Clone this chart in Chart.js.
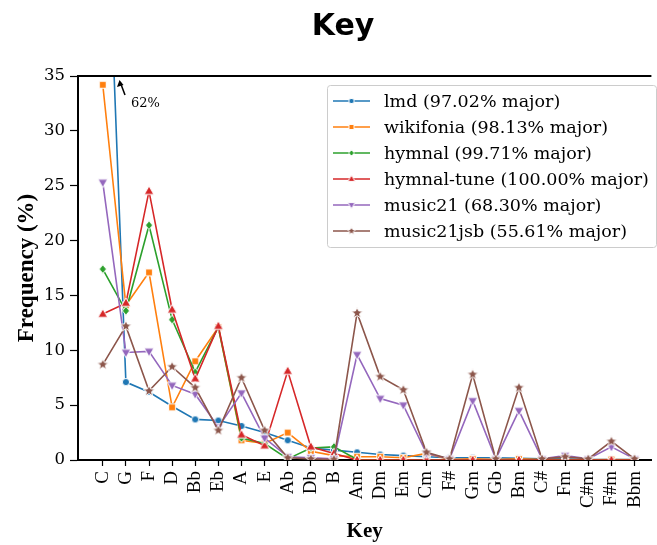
<!DOCTYPE html>
<html>
<head>
<meta charset="utf-8">
<script src="https://cdn.jsdelivr.net/npm/chart.js@4"></script>
<style>
html, body { margin: 0; padding: 0; background: #fff; }
#wrap { position: relative; width: 657px; height: 545px; }
</style>
</head>
<body>
<div id="wrap"><canvas id="keyChart"></canvas></div>
<script>
// keys along the x axis
const keys = ['C','G','F','D','Bb','Eb','A','E','Ab','Db','B','Am','Dm','Em','Cm','F#','Gm','Gb','Bm','C#','Fm','C#m','F#m','Bbm'];

// frequency (%) per key
const lmd        = [62, 7.1, 6.2, 4.9, 3.7, 3.6, 3.1, 2.5, 1.8, 1.1, 0.9, 0.7, 0.5, 0.4, 0.3, 0.2, 0.2, 0.2, 0.15, 0.1, 0.1, 0.05, 0.05, 0.05];
const wikifonia  = [34.2, 14.1, 17.1, 4.8, 9.0, 12.1, 1.8, 1.5, 2.5, 0.8, 0.4, 0.3, 0.3, 0.2, 0.6, 0.05, 0.1, 0.05, 0.1, 0.05, 0.05, 0.02, 0.05, 0.02];
const hymnal     = [17.4, 13.6, 21.4, 12.8, 8.0, 12.1, 2.0, 1.5, 0.1, 1.1, 1.2, 0.05, 0, 0, 0, 0, 0, 0, 0, 0, 0, 0, 0, 0];
const hymnalTune = [13.3, 14.3, 24.5, 13.7, 7.4, 12.2, 2.3, 1.3, 8.1, 1.2, 0.6, 0, 0, 0, 0, 0, 0, 0, 0, 0, 0, 0, 0, 0];
const music21    = [25.3, 9.8, 9.9, 6.8, 6.0, 3.0, 6.1, 2.0, 0.3, 0.2, 0.1, 9.6, 5.6, 5.0, 0.6, 0.1, 5.4, 0.1, 4.5, 0.1, 0.4, 0.1, 1.2, 0.1];
const music21jsb = [8.7, 12.2, 6.3, 8.5, 6.6, 2.7, 7.5, 2.7, 0.2, 0.1, 0.05, 13.4, 7.6, 6.4, 0.7, 0.1, 7.8, 0.1, 6.6, 0.1, 0.3, 0.1, 1.7, 0.1];

const seriesLabels = ['lmd (97.02% major)', 'wikifonia (98.13% major)', 'hymnal (99.71% major)',
                      'hymnal-tune (100.00% major)', 'music21 (68.30% major)', 'music21jsb (55.61% major)'];
const seriesData = [lmd, wikifonia, hymnal, hymnalTune, music21, music21jsb];
const yTicks = [0, 5, 10, 15, 20, 25, 30, 35];

const colors = ['#1f77b4', '#ff7f0e', '#2ca02c', '#d62728', '#9467bd', '#8c564b'];
const shapes = ['circle', 'square', 'diamond', 'up', 'down', 'star'];

// small marker images with a white edge, like the matplotlib ones
function makeMarker(shape, color, k) {
  const s = 18;
  const c = document.createElement('canvas');
  c.width = s; c.height = s;
  const g = c.getContext('2d');
  g.translate(s / 2, s / 2);
  g.scale(k, k);
  g.beginPath();
  if (shape === 'circle') g.arc(0, 0, 3.6, 0, Math.PI * 2);
  else if (shape === 'square') g.rect(-3.4, -3.4, 6.8, 6.8);
  else if (shape === 'diamond') { g.moveTo(0, -4.4); g.lineTo(3.6, 0); g.lineTo(0, 4.4); g.lineTo(-3.6, 0); g.closePath(); }
  else if (shape === 'up') { g.moveTo(0, -5.2); g.lineTo(4.8, 3.2); g.lineTo(-4.8, 3.2); g.closePath(); }
  else if (shape === 'down') { g.moveTo(0, 5.2); g.lineTo(4.8, -3.2); g.lineTo(-4.8, -3.2); g.closePath(); }
  else if (shape === 'star') {
    for (let i = 0; i < 10; i++) {
      const r = i % 2 ? 2.6 : 6.0;
      const a = -Math.PI / 2 + i * Math.PI / 5;
      g.lineTo(r * Math.cos(a), r * Math.sin(a));
    }
    g.closePath();
  }
  g.fillStyle = color;
  g.fill();
  g.strokeStyle = '#fff';
  g.lineWidth = 1 / k;
  g.stroke();
  return c;
}
const markers = shapes.map((s, i) => makeMarker(s, colors[i], 1));
const legendMarkers = shapes.map((s, i) => makeMarker(s, colors[i], 0.75));

const datasets = seriesData.map((vals, i) => ({
  label: seriesLabels[i],
  data: vals.map((v, k) => ({ x: k, y: v })),
  borderColor: colors[i],
  backgroundColor: colors[i],
  borderWidth: 1.6,
  tension: 0,
  pointStyle: markers[i],
  order: 5 - i   // later series on top, like matplotlib
}));

// title, top spine, arrow note and the legend box
const extras = {
  id: 'extras',
  afterDraw(chart) {
    const ctx = chart.ctx;
    const a = chart.chartArea;
    ctx.save();

    ctx.strokeStyle = '#000';
    ctx.lineWidth = 2;
    ctx.beginPath();
    ctx.moveTo(a.left - 1, a.top);
    ctx.lineTo(a.right, a.top);
    ctx.stroke();

    ctx.fillStyle = '#000';
    ctx.font = 'bold 30px "DejaVu Sans"';
    ctx.textAlign = 'center';
    ctx.textBaseline = 'alphabetic';
    ctx.fillText('Key', 343, 35);

    // 62% note for lmd at C
    ctx.lineWidth = 1.5;
    ctx.beginPath();
    ctx.moveTo(125, 95);
    ctx.lineTo(120.5, 83);
    ctx.stroke();
    ctx.beginPath();
    ctx.moveTo(119.5, 80);
    ctx.lineTo(117, 87);
    ctx.lineTo(123.5, 85);
    ctx.closePath();
    ctx.fill();
    ctx.font = '13px "DejaVu Serif"';
    ctx.textAlign = 'left';
    ctx.textBaseline = 'middle';
    ctx.fillText('62%', 131, 104);

    // legend
    const lx = 327, ly = 85, lw = 329, lh = 162;
    ctx.fillStyle = 'rgba(255,255,255,0.8)';
    ctx.strokeStyle = '#cccccc';
    ctx.lineWidth = 1;
    ctx.beginPath();
    ctx.roundRect(lx + 0.5, ly + 0.5, lw, lh, 3);
    ctx.fill();
    ctx.stroke();
    ctx.font = '17.5px "DejaVu Serif"';
    seriesLabels.forEach((lab, i) => {
      const y = 101 + i * 26;
      ctx.strokeStyle = colors[i];
      ctx.lineWidth = 1.6;
      ctx.beginPath();
      ctx.moveTo(333, y);
      ctx.lineTo(370, y);
      ctx.stroke();
      ctx.drawImage(legendMarkers[i], 351.5 - 9, y - 9);
      ctx.fillStyle = '#000';
      ctx.fillText(lab, 384, y + 1);
    });
    ctx.restore();
  }
};

new Chart(document.getElementById('keyChart'), {
  type: 'line',
  data: { datasets: datasets },
  options: {
    responsive: true,
    maintainAspectRatio: false,
    animation: false,
    events: [],
    layout: { padding: { top: 76, left: 0, right: 0, bottom: 0 } },
    scales: {
      x: {
        type: 'linear',
        min: -1.071,
        max: 23.73,
        afterBuildTicks: (s) => { s.ticks = keys.map((k, i) => ({ value: i })); },
        afterFit: (s) => { s.height = 85; s.paddingLeft = 0; s.paddingRight = 0; },
        ticks: {
          autoSkip: false,
          minRotation: 90,
          maxRotation: 90,
          padding: 5,
          color: '#000',
          font: { family: 'Liberation Serif', size: 19 },
          callback: (v) => keys[v]
        },
        grid: { drawOnChartArea: false, drawTicks: true, tickLength: 6, color: '#000', tickWidth: 1.2 },
        border: { color: '#000', width: 2 },
        title: {
          display: true,
          text: 'Key',
          color: '#000',
          font: { family: 'Liberation Serif', size: 21, weight: 'bold' },
          padding: { top: 0, bottom: 1 }
        }
      },
      y: {
        min: 0,
        max: 35,
        afterBuildTicks: (s) => { s.ticks = yTicks.map(v => ({ value: v })); },
        afterFit: (s) => { s.width = 78; s.paddingTop = 0; s.paddingBottom = 0; },
        ticks: {
          padding: 5,
          color: '#000',
          font: { family: 'DejaVu Serif', size: 16.5 }
        },
        grid: { drawOnChartArea: false, drawTicks: true, tickLength: 8, color: '#000', tickWidth: 1.2 },
        border: { color: '#000', width: 2 },
        title: {
          display: true,
          text: 'Frequency (%)',
          color: '#000',
          font: { family: 'Liberation Serif', size: 23, weight: 'bold' },
          padding: { top: 13, bottom: 0 }
        }
      }
    },
    plugins: {
      legend: { display: false },
      tooltip: { enabled: false },
      title: { display: false }
    }
  },
  plugins: [extras]
});
</script>
</body>
</html>
